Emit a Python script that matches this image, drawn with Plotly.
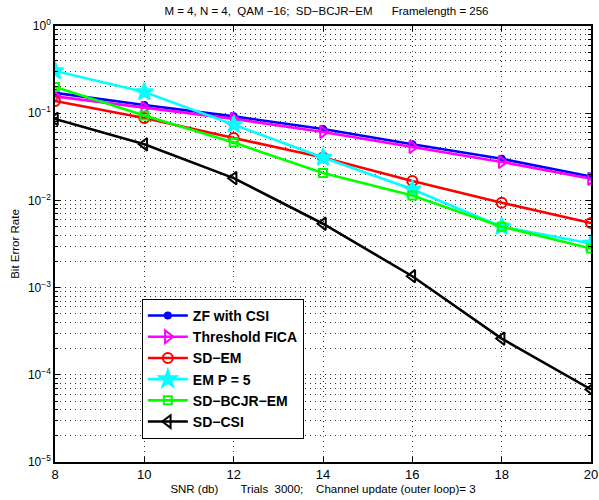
import plotly.graph_objects as go

snr = [8, 10, 12, 14, 16, 18, 20]
zf_csi = [0.171, 0.124, 0.092, 0.066, 0.044, 0.030, 0.0188]
thr_fica = [0.156, 0.115, 0.086, 0.061, 0.041, 0.0276, 0.0177]
sd_em = [0.138, 0.088, 0.052, 0.031, 0.0167, 0.0094, 0.0055]
em_p5 = [0.305, 0.175, 0.074, 0.031, 0.0134, 0.0050, 0.0032]
sd_bcjr_em = [0.200, 0.094, 0.046, 0.0206, 0.0114, 0.0050, 0.0028]
sd_csi = [0.086, 0.044, 0.018, 0.0054, 0.00135, 0.00026, 0.000068]

names = ["ZF with CSI", "Threshold FICA", "SD\u2212EM", "EM P = 5", "SD\u2212BCJR\u2212EM", "SD\u2212CSI"]
series = [zf_csi, thr_fica, sd_em, em_p5, sd_bcjr_em, sd_csi]
colors = ["#0000ff", "#ff00ff", "#ff0000", "#00ffff", "#00ff00", "#000000"]
symbols = ["circle", "triangle-right-open", "circle-open", "star", "square-open", "triangle-left-open"]
sizes = [6, 11, 10, 13, 8, 11]

x_ticks = [8, 10, 12, 14, 16, 18, 20]
y_major = [1e-5, 1e-4, 1e-3, 1e-2, 1e-1, 1e0]
y_major_text = ["10<sup>\u22125</sup>", "10<sup>\u22124</sup>", "10<sup>\u22123</sup>",
                "10<sup>\u22122</sup>", "10<sup>\u22121</sup>", "10<sup>0</sup>"]
y_minor = [m * 10.0 ** e for e in range(-5, 0) for m in range(2, 10)]

fig = go.Figure()
for nm, ys, c, s, sz in zip(names, series, colors, symbols, sizes):
    fig.add_trace(go.Scatter(
        x=snr, y=ys, name=nm, mode="lines+markers",
        line=dict(color=c, width=2.6),
        marker=dict(symbol=s, size=sz, color=c, line=dict(color=c, width=2)),
    ))

font = "Liberation Sans, Arial, Helvetica, sans-serif"
grid_dash = "1px,4px"
fig.update_layout(
    width=599, height=500,
    margin=dict(l=55, r=1, t=26, b=38),
    paper_bgcolor="white", plot_bgcolor="white",
    font=dict(family=font, size=12, color="black"),
    title=dict(text="M = 4, N = 4,  QAM \u221216;  SD\u2212BCJR\u2212EM      Framelength = 256",
               x=0.545, xanchor="center", y=0.978, yanchor="middle",
               font=dict(size=11.5, family=font)),
    showlegend=True,
    legend=dict(x=0.162, y=0.374, xanchor="left", yanchor="top",
                bgcolor="white", bordercolor="black", borderwidth=1,
                font=dict(size=14, family=font, weight="bold"),
                tracegroupgap=0, itemwidth=40),
)
fig.update_xaxes(
    range=[8, 20], tickvals=x_ticks, ticktext=[str(t) for t in x_ticks],
    showgrid=True, gridcolor="#333333", griddash=grid_dash, gridwidth=1,
    showline=True, linecolor="black", linewidth=1.5, mirror="ticks",
    ticks="inside", ticklen=5, tickcolor="black",
    tickfont=dict(size=13), zeroline=False, ticklabeloverflow="allow",
    title=dict(text="SNR (db)       Trials  3000;    Channel update (outer loop)= 3",
               font=dict(size=11.5), standoff=4),
)
fig.update_yaxes(
    type="log", range=[-5, 0], tickvals=y_major, ticktext=y_major_text,
    showgrid=True, gridcolor="#333333", griddash=grid_dash, gridwidth=1,
    showline=True, linecolor="black", linewidth=1.5, mirror="ticks",
    ticks="inside", ticklen=5, tickcolor="black",
    tickfont=dict(size=12), zeroline=False,
    minor=dict(tickmode="array", tickvals=y_minor, showgrid=True,
               gridcolor="#333333", griddash=grid_dash, gridwidth=1,
               ticks="inside", ticklen=3, tickcolor="black"),
    title=dict(text="Bit Error Rate", font=dict(size=11.5), standoff=6),
)
fig.write_html("out.html")
